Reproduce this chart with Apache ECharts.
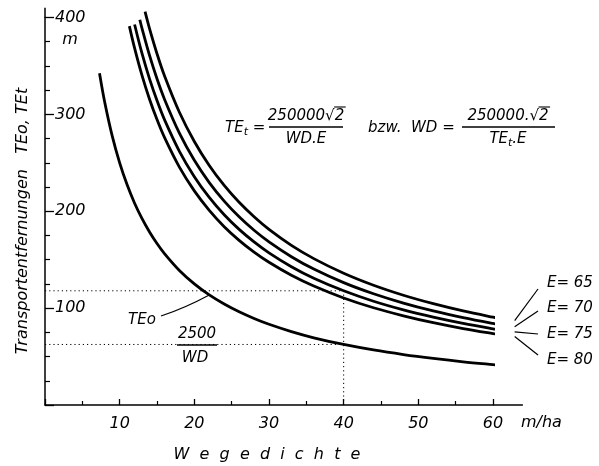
<!DOCTYPE html>
<html>
<head>
<meta charset="utf-8">
<script src="https://cdn.jsdelivr.net/npm/echarts@6/dist/echarts.min.js"></script>
<style>html,body{margin:0;padding:0;background:#fff}#c{width:599px;height:466px}</style>
</head>
<body>
<div id="c"></div>
<script>
// Wegedichte (m/ha) and Transportentfernung (m)
const wdO  = [7.3,8,9,10,11,12,13,14,15,16,18,20,22,24,26,28,30,33,36,40,44,48,52,56,60,62.5];
const teO  = [342.5,312.5,277.8,250,227.3,208.3,192.3,178.6,166.7,156.3,138.9,125,113.6,104.2,96.2,89.3,83.3,75.8,69.4,62.5,56.8,52.1,48.1,44.6,41.7,40];
const wd65 = [13.4,14,15,16,18,20,22,24,26,28,30,33,36,40,44,48,52,56,60,62.5];
const te65 = [406,388.5,362.6,339.9,302.2,272,247.2,226.6,209.2,194.3,181.3,164.8,151.1,136,123.6,113.3,104.6,97.1,90.7,87];
const wd70 = [12.7,13,14,15,16,18,20,22,24,26,28,30,33,36,40,44,48,52,56,60,62.5];
const te70 = [397.7,388.5,360.8,336.7,315.7,280.6,252.6,229.6,210.5,194.3,180.4,168.4,153.1,140.3,126.3,114.8,105.2,97.1,90.2,84.2,80.8];
const wd75 = [12,13,14,15,16,18,20,22,24,26,28,30,33,36,40,44,48,52,56,60,62.5];
const te75 = [392.8,362.6,336.7,314.3,294.6,261.9,235.7,214.3,196.4,181.3,168.4,157.1,142.8,130.9,117.9,107.1,98.2,90.7,84.2,78.6,75.4];
const wd80 = [11.3,12,13,14,15,16,18,20,22,24,26,28,30,33,36,40,44,48,52,56,60,62.5];
const te80 = [391.1,368.3,339.9,315.6,294.6,276.2,245.5,221,200.9,184.1,170,157.8,147.3,133.9,122.8,110.5,100.4,92.1,85,78.9,73.7,70.7];
const eLabels = ['E= 65','E= 70','E= 75','E= 80'];
const guideWD = 40;
const guideTE = [117.9, 62.5];
const xTicks = [10,20,30,40,50,60];
const yTicks = [100,200,300,400];

const FONT = 'DejaVu Sans';
const F15 = 'italic 15px "DejaVu Sans"';
const pair = (xs, ys) => xs.map((x, i) => [x, ys[i]]);
const curve = (name, xs, ys) => ({
  name, type: 'line', data: pair(xs, ys), smooth: 0.35,
  showSymbol: false, clip: false, lineStyle: {color: '#000', width: 2.8, join: 'round'}, z: 5
});
const guide = (data) => ({
  type: 'line', data, showSymbol: false, clip: false,
  lineStyle: {color: '#000', width: 1, type: [1.2, 3]}, z: 3
});

const chart = echarts.init(document.getElementById('c'));
chart.setOption({
  animation: false,
  backgroundColor: '#fff',
  grid: {left: 45, right: 106, top: 17.5, bottom: 61},
  xAxis: {
    type: 'value', min: 0, max: 60, interval: 10,
    axisLine: {lineStyle: {color: '#000', width: 1.5}},
    axisTick: {inside: true, length: 6, lineStyle: {color: '#000', width: 1.3}},
    minorTick: {show: true, splitNumber: 2, length: 4, lineStyle: {color: '#000', width: 1.2}},
    splitLine: {show: false},
    axisLabel: {color: '#000', fontFamily: FONT, fontStyle: 'italic', fontSize: 16, margin: 11,
      formatter: v => xTicks.includes(v) ? String(v) : ''}
  },
  yAxis: {
    type: 'value', min: 0, max: 400, interval: 100,
    axisLine: {show: true, lineStyle: {color: '#000', width: 1.5}},
    axisTick: {show: true, inside: true, length: 9, lineStyle: {color: '#000', width: 1.3}},
    minorTick: {show: true, splitNumber: 4, length: 5, lineStyle: {color: '#000', width: 1.2}},
    splitLine: {show: false},
    axisLabel: {inside: true, color: '#000', fontFamily: FONT, fontStyle: 'italic', fontSize: 16, margin: 10,
      formatter: v => yTicks.includes(v) ? String(v) : ''}
  },
  series: [
    curve('TEo', wdO, teO),
    curve('E65', wd65, te65),
    curve('E70', wd70, te70),
    curve('E75', wd75, te75),
    curve('E80', wd80, te80),
    guide([[0, guideTE[0]], [guideWD, guideTE[0]]]),
    guide([[0, guideTE[1]], [guideWD, guideTE[1]]]),
    guide([[guideWD, 0], [guideWD, guideTE[0]]])
  ]
});

function px(p) { return chart.convertToPixel({gridIndex: 0}, p); }
const ctx = document.createElement('canvas').getContext('2d');
ctx.font = F15;
const tw = s => ctx.measureText(s).width;

const x60 = px([60, 0]), y400 = px([0, 400]);
const xEnd = px([64, 0]), yTop = px([0, 410]);
const ends = [te65, te70, te75, te80].map(a => a[a.length - 1]);
const leadEnd = [[538, 289], [538, 311], [538, 334], [538, 355]];
const labelY = [283, 308, 334, 360];
const g = [];
g.push({type: 'line', shape: {x1: x60[0], y1: x60[1], x2: xEnd[0], y2: xEnd[1]}, style: {stroke: '#000', lineWidth: 1.5}});
g.push({type: 'line', shape: {x1: y400[0], y1: y400[1], x2: yTop[0], y2: yTop[1]}, style: {stroke: '#000', lineWidth: 1.5}});
ends.forEach((v, i) => {
  const s = px([62.5, v]);
  g.push({type: 'line', shape: {x1: s[0] + 3, y1: s[1], x2: leadEnd[i][0], y2: leadEnd[i][1]}, style: {stroke: '#000', lineWidth: 1.2}});
  g.push({type: 'text', x: 547, y: labelY[i], style: {text: eLabels[i], font: F15, fill: '#000', textVerticalAlign: 'middle'}});
});
// TEo leader
const pO = px([22, 113.6]);
g.push({type: 'bezierCurve', shape: {x1: 161, y1: 316, cpx1: 185, cpy1: 308, x2: pO[0], y2: pO[1]}, style: {stroke: '#000', lineWidth: 1.2, fill: null}});
g.push({type: 'text', x: 128, y: 320, style: {text: 'TEo', font: F15, fill: '#000', textVerticalAlign: 'middle'}});
// 2500 / WD
g.push({type: 'text', x: 197, y: 334, style: {text: '2500', font: F15, fill: '#000', textAlign: 'center', textVerticalAlign: 'middle'}});
g.push({type: 'line', shape: {x1: 177, y1: 345, x2: 217, y2: 345}, style: {stroke: '#000', lineWidth: 1.5}});
g.push({type: 'text', x: 195, y: 358, style: {text: 'WD', font: F15, fill: '#000', textAlign: 'center', textVerticalAlign: 'middle'}});
// axis unit labels
g.push({type: 'text', x: 70, y: 40, style: {text: 'm', font: 'italic 16px "DejaVu Sans"', fill: '#000', textAlign: 'center', textVerticalAlign: 'middle'}});
g.push({type: 'text', x: 521, y: 423, style: {text: 'm/ha', font: 'italic 16px "DejaVu Sans"', fill: '#000', textVerticalAlign: 'middle'}});
g.push({type: 'text', x: 267, y: 455, style: {text: 'W  e  g  e  d  i  c  h  t  e', font: 'italic 16px "DejaVu Sans"', fill: '#000', textAlign: 'center', textVerticalAlign: 'middle'}});
g.push({type: 'text', x: 23, y: 221, rotation: Math.PI / 2, style: {text: 'Transportentfernungen   TEo, TEt', font: 'italic 16px "DejaVu Sans"', fill: '#000', textAlign: 'center', textVerticalAlign: 'middle'}});
// formulas
const rich = {a: {fontFamily: FONT, fontStyle: 'italic', fontSize: 15, fill: '#000'}, s: {fontFamily: FONT, fontStyle: 'italic', fontSize: 11, fill: '#000', padding: [8, 0, 0, 0]}};
function numerator(cx, txt) {
  g.push({type: 'text', x: cx, y: 116, style: {text: txt, font: F15, fill: '#000', textAlign: 'center', textVerticalAlign: 'middle'}});
  const right = cx + tw(txt) / 2;
  g.push({type: 'line', shape: {x1: right - tw('2') - 0.5, y1: 107, x2: right + 1.5, y2: 107}, style: {stroke: '#000', lineWidth: 1.1}});
}
g.push({type: 'text', x: 225, y: 128, style: {text: '{a|TE}{s|t}{a| =}', rich, textVerticalAlign: 'middle'}});
numerator(306, '250000√2');
g.push({type: 'line', shape: {x1: 269, y1: 127, x2: 343, y2: 127}, style: {stroke: '#000', lineWidth: 1.5}});
g.push({type: 'text', x: 306, y: 139, style: {text: 'WD.E', font: F15, fill: '#000', textAlign: 'center', textVerticalAlign: 'middle'}});
g.push({type: 'text', x: 368, y: 128, style: {text: 'bzw.  WD =', font: F15, fill: '#000', textVerticalAlign: 'middle'}});
numerator(508, '250000.√2');
g.push({type: 'line', shape: {x1: 462, y1: 127, x2: 555, y2: 127}, style: {stroke: '#000', lineWidth: 1.5}});
g.push({type: 'text', x: 508, y: 139, style: {text: '{a|TE}{s|t}{a|.E}', rich, textAlign: 'center', textVerticalAlign: 'middle'}});
chart.setOption({graphic: g});
</script>
</body>
</html>
